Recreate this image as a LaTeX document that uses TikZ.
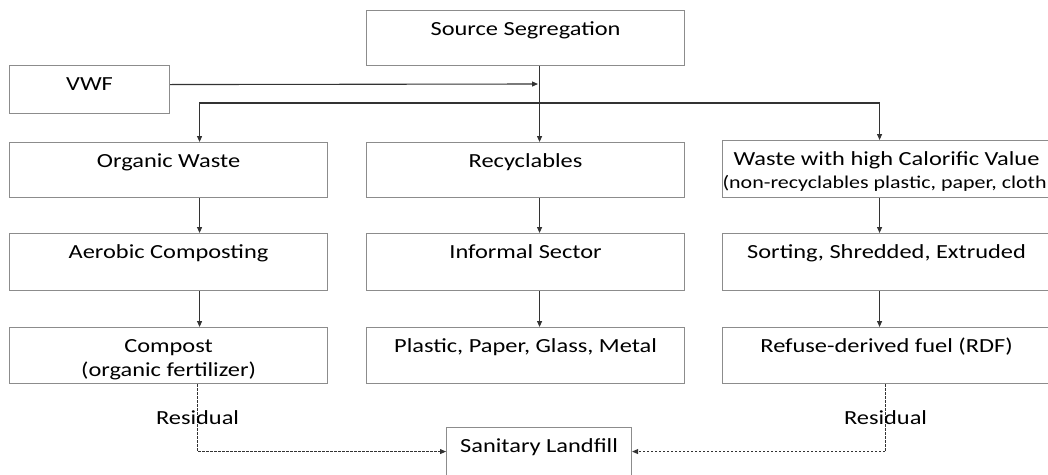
\documentclass[tikz,border=0pt]{standalone}
\usepackage{fontspec}
\setmainfont{Carlito}[FakeStretch=1.22]
\usetikzlibrary{arrows.meta,positioning,calc}
\definecolor{boxgray}{HTML}{8C8C8C}
\definecolor{linegray}{HTML}{333333}
\tikzset{box/.style={draw=boxgray,line width=1.1pt,anchor=north west,inner sep=0pt,minimum width=318pt,minimum height=55pt},
  wide/.style={box,minimum width=328pt},
  txt/.style={label={[anchor=base,yshift=-25pt,inner sep=0pt]north:#1}},
  txtb/.style={label={[anchor=base,yshift=-49pt,inner sep=0pt]north:#1}},
  arr/.style={-{Triangle[length=6pt,width=5pt]},draw=linegray,line width=1.1pt},
  darr/.style={arr,dash pattern=on 2.5pt off 1.5pt,line width=0.9pt}}
\begin{document}
\begin{tikzpicture}[x=1pt,y=-1pt,font=\fontsize{20}{24}\selectfont]
\useasboundingbox (0,0) rectangle (1048,474);
% top row
\node[box,txt=Source Segregation] (src) at (366,10){};
\node[box,minimum width=160pt,minimum height=48pt,txt=VWF] (vwf) at (9,65){};
% waste streams
\node[box,txt=Organic Waste] (org) at (9,142){};
\node[box,txt=Recyclables] (rec) at (366,142){};
\node[wide,minimum height=57pt,txt=Waste with high Calorific Value,
  label={[anchor=base,yshift=-48pt,xshift=-2pt,inner sep=0pt,font=\fontsize{18}{22}\selectfont]north:(non-recyclables plastic, paper, cloth}] (cal) at (722,140){};
\node[box,minimum height=57pt,txt=Aerobic Composting] (aer) at (9,233){};
\node[box,minimum height=57pt,txt=Informal Sector] (inf) at (366,233){};
\node[wide,minimum height=57pt,txt={Sorting, Shredded, Extruded}] (sor) at (722,233){};
\node[box,minimum height=56pt,txt=Compost,txtb=(organic fertilizer)] (com) at (9,327){};
\node[box,minimum height=56pt,txt={Plastic, Paper, Glass, Metal}] (ppg) at (366,327){};
\node[wide,minimum height=56pt,txt=Refuse-derived fuel (RDF)] (rdf) at (722,327){};
\node[box,minimum width=185pt,minimum height=48pt,txt=Sanitary Landfill] (lan) at (446,427){};
% connectors
\coordinate (join) at (539,84); \coordinate (split) at (539,103);
\draw[arr,shorten >=1pt] ([yshift=5pt]vwf.east) -- (join);
\draw[arr] ([xshift=14pt]src.south) -- ([xshift=14pt]rec.north);
\draw[arr] (split) -| ([xshift=31pt]org.north);
\draw[arr] (split) -| ([xshift=-7pt]cal.north);
\foreach \a/\b/\s in {org/aer/31,aer/com/31,rec/inf/14,inf/ppg/14,cal/sor/-7,sor/rdf/-7}
  \draw[arr] ([xshift=\s pt]\a.south) -- ([xshift=\s pt]\b.north);
\draw[darr] ([xshift=29pt]com.south) |- node[pos=0.25,inner sep=0pt] (resl){Residual} (lan.west);
\draw[darr] ([xshift=-1pt]rdf.south) |- node[pos=0.25,inner sep=0pt] (resr){Residual} (lan.east);
\end{tikzpicture}
\end{document}
